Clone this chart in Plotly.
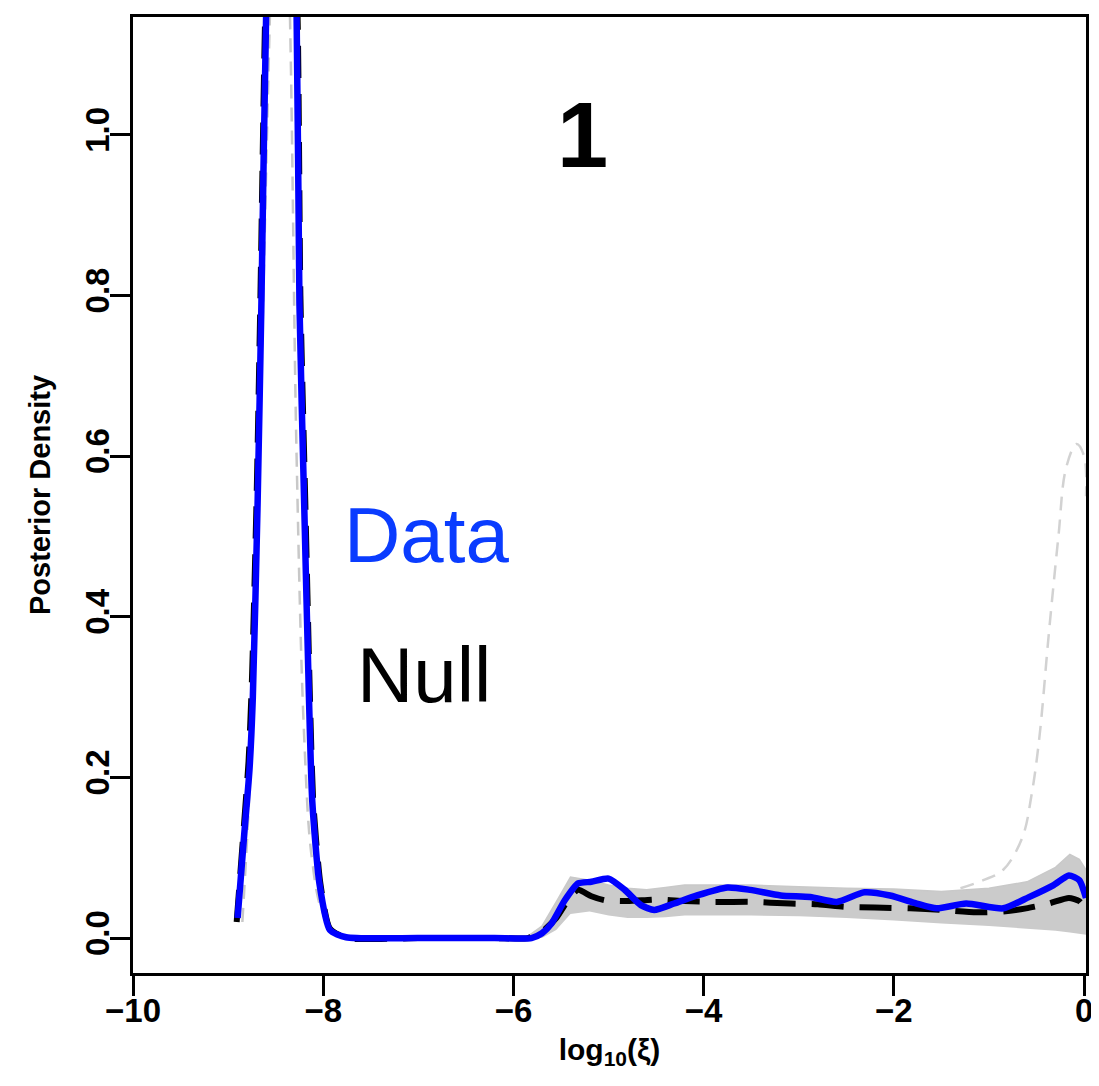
import plotly.graph_objects as go

# ---------------- data ----------------
# Data (blue) posterior density
data_x = [-8.90, -8.83, -8.775, -8.74, -8.69, -8.65, -8.60, -8.52, -8.44, -8.36, -8.28, -8.25, -8.20,
          -8.15, -8.115, -8.04, -7.93, -7.76, -7.0, -6.2, -5.81, -5.70, -5.60, -5.46, -5.32, -5.18,
          -5.00, -4.83, -4.66, -4.52, -4.31, -4.07, -3.75, -3.51, -3.19, -2.88, -2.60, -2.31, -2.04,
          -1.76, -1.55, -1.24, -0.85, -0.58, -0.32, -0.16, -0.05, 0.02]
data_y = [0.025, 0.13, 0.21, 0.30, 0.54, 0.79, 1.15, 1.45, 1.55, 1.45, 1.15, 0.79, 0.54,
          0.30, 0.17, 0.068, 0.01, 0.001, 0.0, 0.0, 0.0, 0.006, 0.018, 0.047, 0.068, 0.070,
          0.074, 0.060, 0.041, 0.035, 0.043, 0.053, 0.063, 0.060, 0.053, 0.051, 0.045, 0.057, 0.053,
          0.043, 0.037, 0.043, 0.037, 0.051, 0.066, 0.078, 0.072, 0.050]

# Null (black dashed) posterior density
null_x = [-8.91, -8.84, -8.785, -8.75, -8.70, -8.66, -8.61, -8.53, -8.45, -8.36, -8.27, -8.24, -8.19,
          -8.14, -8.105, -8.03, -7.93, -7.75, -7.0, -6.2, -5.85, -5.70, -5.55, -5.40, -5.32, -5.18,
          -5.04, -4.80, -4.48, -4.20, -3.89, -3.50, -3.09, -2.80, -2.52, -2.20, -1.83, -1.50, -1.13,
          -0.85, -0.61, -0.37, -0.16, -0.05, 0.02]
null_y = [0.02, 0.13, 0.22, 0.32, 0.55, 0.80, 1.15, 1.45, 1.58, 1.45, 1.15, 0.80, 0.55,
          0.30, 0.17, 0.068, 0.012, 0.0, 0.0, 0.0, 0.0, 0.008, 0.025, 0.052, 0.060, 0.052,
          0.047, 0.046, 0.048, 0.046, 0.045, 0.045, 0.043, 0.042, 0.039, 0.038, 0.037, 0.035, 0.032,
          0.033, 0.037, 0.043, 0.050, 0.046, 0.035]

# envelope of the null replicates (light grey band)
band_x = [-5.85, -5.70, -5.55, -5.40, -5.20, -5.00, -4.80, -4.60, -4.40, -4.20, -4.00, -3.50,
          -3.00, -2.50, -2.00, -1.50, -1.00, -0.60, -0.30, -0.15, -0.05, 0.02]
band_upper = [0.002, 0.015, 0.045, 0.076, 0.072, 0.066, 0.062, 0.060, 0.063, 0.066, 0.066, 0.066,
              0.064, 0.062, 0.061, 0.058, 0.062, 0.070, 0.088, 0.104, 0.098, 0.085]
band_lower = [0.0, 0.0, 0.010, 0.030, 0.033, 0.028, 0.025, 0.025, 0.026, 0.028, 0.028, 0.028,
              0.027, 0.025, 0.022, 0.018, 0.015, 0.012, 0.009, 0.007, 0.005, 0.004]

# individual replicate drawn dashed (the one rising at the right edge)
rep1_x = [-1.30, -1.06, -0.85, -0.65, -0.55, -0.47, -0.37, -0.27, -0.19, -0.08, 0.0, 0.02]
rep1_y = [0.062, 0.072, 0.085, 0.125, 0.18, 0.25, 0.38, 0.50, 0.585, 0.615, 0.60, 0.55]

# replicate drawn dashed (narrow peak near -8.45)
rep2_x = [-8.85, -8.75, -8.65, -8.56, -8.45, -8.35, -8.28, -8.20, -8.12, -8.00, -7.80]
rep2_y = [0.02, 0.25, 0.70, 1.15, 1.60, 1.15, 0.60, 0.25, 0.10, 0.03, 0.0]

x_ticks = [-10, -8, -6, -4, -2, 0]
x_tick_labels = ["\u221210", "\u22128", "\u22126", "\u22124", "\u22122", "0"]
y_ticks = [0.0, 0.2, 0.4, 0.6, 0.8, 1.0]
y_tick_labels = ["0.0", "0.2", "0.4", "0.6", "0.8", "1.0"]

# ---------------- figure ----------------
TICK_FONT = dict(family="Liberation Sans, Arial", size=33, color="black", weight="bold")

fig = go.Figure()

fig.add_trace(go.Scatter(x=band_x, y=band_lower, mode="lines", line=dict(width=0, color="rgba(0,0,0,0)"),
                         showlegend=False, hoverinfo="skip"))
fig.add_trace(go.Scatter(x=band_x, y=band_upper, mode="lines", line=dict(width=1.5, color="#c9c9c9"),
                         fill="tonexty", fillcolor="#cbcbcb", showlegend=False, hoverinfo="skip"))

fig.add_trace(go.Scatter(x=rep1_x, y=rep1_y, mode="lines",
                         line=dict(color="#d2d2d2", width=2.5, dash="14px,9px", shape="spline"),
                         showlegend=False))
fig.add_trace(go.Scatter(x=rep2_x, y=rep2_y, mode="lines",
                         line=dict(color="#c8c8c8", width=2.5, dash="14px,9px", shape="spline"),
                         showlegend=False))

fig.add_trace(go.Scatter(x=null_x, y=null_y, mode="lines", name="Null",
                         line=dict(color="black", width=6, dash="32px,16px", shape="spline", smoothing=0.6),
                         showlegend=False))
fig.add_trace(go.Scatter(x=data_x, y=data_y, mode="lines", name="Data",
                         line=dict(color="#0000ff", width=6.5, shape="spline", smoothing=0.6),
                         showlegend=False))

fig.add_annotation(x=-5.27, y=1.0, text="<b>1</b>", showarrow=False,
                   font=dict(family="Liberation Sans, Arial", size=92, color="black"))
fig.add_annotation(x=-6.91, y=0.502, text="Data", showarrow=False,
                   font=dict(family="Liberation Sans, Arial", size=78, color="#0a3cff"))
fig.add_annotation(x=-6.94, y=0.327, text="Null", showarrow=False,
                   font=dict(family="Liberation Sans, Arial", size=78, color="black"))

# page body has an 8px default margin, so the figure is shifted by 8px
fig.update_layout(
    width=1091, height=1078,
    margin=dict(l=125, r=6, t=7, b=113),
    paper_bgcolor="white", plot_bgcolor="white",
    showlegend=False,
)
fig.update_xaxes(
    range=[-10, 0.02], tickvals=x_ticks, ticktext=x_tick_labels,
    showgrid=False, zeroline=False,
    showline=True, linecolor="black", linewidth=3, mirror=True,
    ticks="outside", ticklen=20, tickwidth=3, tickcolor="black",
    tickfont=TICK_FONT, ticklabelstandoff=-14,
    title=dict(text="log<sub>10</sub>(\u03be)", standoff=12,
               font=dict(family="Liberation Sans, Arial", size=30, color="black", weight="bold")),
)
fig.update_yaxes(
    range=[-0.0435, 1.1466], tickvals=y_ticks, ticktext=y_tick_labels,
    showgrid=False, zeroline=False,
    showline=True, linecolor="black", linewidth=3, mirror=True,
    ticks="outside", ticklen=20, tickwidth=3, tickcolor="black",
    tickfont=TICK_FONT, tickangle=-90, ticklabelstandoff=-12,
    title=dict(text="Posterior Density", standoff=20,
               font=dict(family="Liberation Sans, Arial", size=29, color="black", weight="bold")),
)

fig.write_html("out.html")
